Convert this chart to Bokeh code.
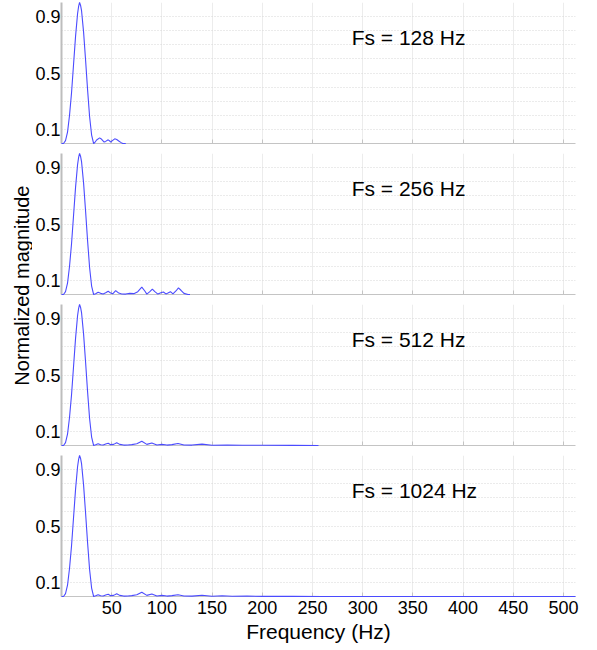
import math
from bokeh.plotting import figure
from bokeh.models import Range1d, FixedTicker, Label
from bokeh.layouts import row, column
from bokeh.embed import file_html
from bokeh.resources import INLINE

FONT = "Liberation Sans"

# ---------------- data ----------------
fs_values = [128, 256, 512, 1024]
fs_labels = ["Fs = 128 Hz", "Fs = 256 Hz", "Fs = 512 Hz", "Fs = 1024 Hz"]

x_ticks = [50, 100, 150, 200, 250, 300, 350, 400, 450, 500]
y_ticks = [0.1, 0.5, 0.9]
y_grid = [0.1, 0.2, 0.3, 0.4, 0.5, 0.6, 0.7, 0.8, 0.9, 1.0]

# main lobe (common to all sampling rates)
main_freq = [0, 2, 4, 6, 8, 10, 12, 14, 16, 17, 18, 19, 20, 22, 24, 26, 28, 30, 32]
main_mag = [0.0, 0.0, 0.02, 0.08, 0.2, 0.36, 0.56, 0.76, 0.92, 0.97, 1.0, 0.98, 0.94,
            0.79, 0.59, 0.38, 0.19, 0.06, 0.0]

# side lobes, Fs = 128 Hz
p1_freq = [33, 35, 38, 40, 42.5, 44, 46.5, 48, 49, 51, 53, 55, 57, 59, 61, 64]
p1_mag = [0.005, 0.025, 0.04, 0.03, 0.01, 0.015, 0.026, 0.018, 0.01, 0.022, 0.033,
          0.028, 0.018, 0.008, 0.0, 0.0]

# side lobes, Fs = 256 Hz
p2_freq = [34, 36.5, 39, 41.5, 44, 46.5, 49, 51, 54, 57, 60, 64, 68, 72, 76, 80, 83,
           85, 88, 90.5, 93, 96, 99, 101.5, 104, 106, 108.5, 111, 114, 116.5, 119,
           122, 126, 128]
p2_mag = [0.005, 0.016, 0.008, 0.004, 0.012, 0.023, 0.01, 0.005, 0.027, 0.01, 0.004,
          0.003, 0.008, 0.006, 0.02, 0.052, 0.025, 0.003, 0.02, 0.038, 0.02, 0.003,
          0.012, 0.018, 0.004, 0.01, 0.02, 0.004, 0.025, 0.047, 0.03, 0.008, 0.0, 0.0]

# side lobes, Fs = 512 Hz
p3_freq = [34, 36.5, 39, 41.5, 44, 46.5, 49, 52, 55, 58, 62, 66, 70, 75, 80, 85, 90,
           95, 100, 105, 110, 116, 122, 130, 140, 150, 165, 180, 200, 230, 256]
p3_mag = [0.005, 0.012, 0.005, 0.003, 0.01, 0.016, 0.006, 0.008, 0.02, 0.008, 0.003,
          0.004, 0.006, 0.012, 0.03, 0.008, 0.018, 0.004, 0.008, 0.003, 0.006, 0.014,
          0.004, 0.003, 0.01, 0.002, 0.004, 0.002, 0.002, 0.001, 0.0]

# side lobes, Fs = 1024 Hz
p4_freq = [34, 36.5, 39, 41.5, 44, 46.5, 49, 52, 55, 58, 62, 66, 70, 75, 80, 85, 90,
           95, 100, 105, 110, 116, 122, 130, 140, 150, 160, 170, 185, 200, 230, 260,
           300, 400, 512]
p4_mag = [0.005, 0.012, 0.005, 0.003, 0.01, 0.016, 0.006, 0.008, 0.02, 0.008, 0.003,
          0.004, 0.006, 0.012, 0.03, 0.008, 0.018, 0.004, 0.008, 0.003, 0.006, 0.012,
          0.004, 0.003, 0.009, 0.002, 0.005, 0.002, 0.003, 0.001, 0.001, 0.0, 0.0,
          0.0, 0.0]

side_freqs = [p1_freq, p2_freq, p3_freq, p4_freq]
side_mags = [p1_mag, p2_mag, p3_mag, p4_mag]

# ---------------- layout ----------------
LABEL_W = 32
FRAME_W = 514
FRAME_H = 141
LEFT = 29
RIGHT = 10
TOPS = [2, 0, 0, 0]
BOTTOMS = [10, 10, 10, 52]

panels = []
for i in range(4):
    last = (i == 3)
    top = TOPS[i]
    bottom = BOTTOMS[i]
    p = figure(width=LEFT + FRAME_W + RIGHT, height=top + FRAME_H + bottom,
               x_range=Range1d(0, 512), y_range=Range1d(0, 1),
               output_backend="svg", toolbar_location=None,
               min_border_left=LEFT, min_border_right=RIGHT,
               min_border_top=top, min_border_bottom=bottom)
    p.outline_line_color = None
    p.background_fill_color = "white"
    p.border_fill_color = "white"

    # grids
    p.xgrid.ticker = FixedTicker(ticks=x_ticks)
    p.xgrid.grid_line_color = "#ececec"
    p.xgrid.grid_line_width = 1
    p.ygrid.ticker = FixedTicker(ticks=y_grid)
    p.ygrid.grid_line_color = "#d6d6d6"
    p.ygrid.grid_line_dash = "1 2"

    # x axis
    xa = p.xaxis[0]
    xa.ticker = FixedTicker(ticks=x_ticks)
    xa.axis_line_color = "#c4c4c4"
    xa.axis_line_width = 1
    xa.major_tick_in = 4
    xa.major_tick_out = 0
    xa.major_tick_line_color = "#c4c4c4"
    xa.minor_tick_line_color = None
    xa.major_label_text_font = FONT
    xa.major_label_text_color = "black"
    if last:
        xa.major_label_text_font_size = "18px"
        xa.major_label_standoff = 4
        xa.axis_label = "Frequency (Hz)"
        xa.axis_label_text_font = FONT
        xa.axis_label_text_font_size = "21px"
        xa.axis_label_text_font_style = "normal"
        xa.axis_label_text_color = "black"
        xa.axis_label_standoff = 3
    else:
        xa.major_label_overrides = {t: "" for t in x_ticks}
        xa.major_label_standoff = 0

    # y axis
    ya = p.yaxis[0]
    ya.ticker = FixedTicker(ticks=y_ticks)
    ya.axis_line_color = "#bdbdbd"
    ya.axis_line_width = 2
    ya.major_tick_in = 0
    ya.major_tick_out = 0
    ya.minor_tick_line_color = None
    ya.major_label_text_font = FONT
    ya.major_label_text_font_size = "18px"
    ya.major_label_text_color = "black"
    ya.major_label_standoff = 1

    freq = main_freq + side_freqs[i]
    mag = main_mag + side_mags[i]
    r = p.line(freq, mag, line_color="#4b4bff", line_width=1.1)
    r.level = "overlay"

    p.add_layout(Label(x=289, y=0.75, text=fs_labels[i], text_font=FONT,
                       text_font_size="21px", text_color="black",
                       text_align="left", text_baseline="middle"))
    panels.append(p)

total_h = sum(pp.height for pp in panels)
lab = figure(width=LABEL_W, height=total_h, x_range=Range1d(0, 1), y_range=Range1d(0, 1),
             output_backend="svg", toolbar_location=None,
             x_axis_location=None, y_axis_location=None,
             min_border=0)
lab.outline_line_color = None
lab.grid.visible = False
lab.add_layout(Label(x=0.66, y=0.56, text="Normalized magnitude", angle=math.pi / 2,
                     text_font=FONT, text_font_size="20px", text_color="black",
                     text_align="center", text_baseline="middle"))

layout = row(lab, column(*panels))
open("out.html", "w").write(file_html(layout, INLINE))
